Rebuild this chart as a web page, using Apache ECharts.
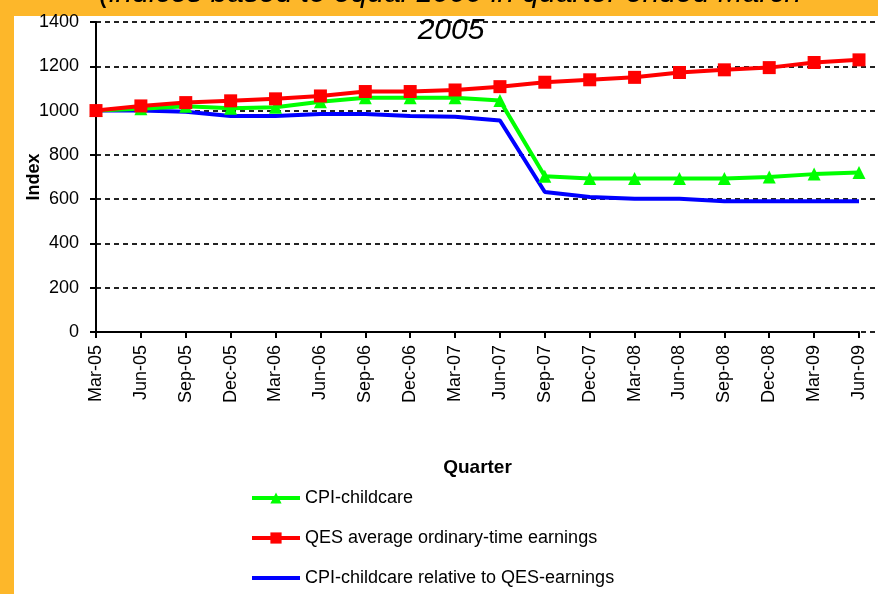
<!DOCTYPE html>
<html>
<head>
<meta charset="utf-8">
<script src="https://cdn.jsdelivr.net/npm/echarts@6/dist/echarts.min.js"></script>
<style>html,body{margin:0;padding:0;background:#FDB72A;}#c{width:878px;height:594px;}</style>
</head>
<body>
<div id="c"></div>
<script>
var categories = ['Mar-05','Jun-05','Sep-05','Dec-05','Mar-06','Jun-06','Sep-06','Dec-06','Mar-07','Jun-07','Sep-07','Dec-07','Mar-08','Jun-08','Sep-08','Dec-08','Mar-09','Jun-09'];
var cpiChildcare = [1000,1008,1020,1010,1015,1040,1058,1058,1058,1045,703,693,693,693,693,700,713,720];
var qesEarnings = [1000,1021,1036,1044,1053,1066,1086,1086,1093,1108,1128,1139,1150,1172,1184,1194,1217,1229];
var cpiRelative = [1000,1000,995,975,975,985,985,975,972,955,632,610,602,602,590,590,590,590];
var seriesNames = ['CPI-childcare','QES average ordinary-time earnings','CPI-childcare relative to QES-earnings'];
var titleLines = ['(indices based to equal 1000 in quarter ended March','2005'];

var FONT = '"Liberation Sans", Arial, sans-serif';
var chart = echarts.init(document.getElementById('c'));
chart.setOption({
  backgroundColor: '#FDB72A',
  animation: false,
  graphic: [
    {type:'rect', left:14, top:16, shape:{width:864, height:578}, style:{fill:'#ffffff'}, z:-10, silent:true},
    {type:'text', x:450, y:-6, z:100, style:{text:titleLines[0], font:'italic 30px ' + FONT, fill:'#000', align:'center', verticalAlign:'middle'}},
    {type:'text', x:451, y:31, z:100, style:{text:titleLines[1], font:'italic 30px ' + FONT, fill:'#000', align:'center', verticalAlign:'middle'}}
  ],
  grid: [
    {left:96, right:19, top:22, bottom:262, containLabel:false},
    {left:96, right:0, top:22, bottom:262, containLabel:false}
  ],
  legend: {
    orient:'vertical', left:250, top:489, height:120, padding:0,
    itemWidth:48, itemHeight:14, itemGap:22,
    lineStyle:{width:4},
    data: [
      {name:seriesNames[0]},
      {name:seriesNames[1]},
      {name:seriesNames[2], icon:'path://M0,0 L48,0 L48,4 L0,4 Z'}
    ],
    textStyle:{fontFamily:FONT, fontSize:18, color:'#000'}
  },
  xAxis: [
    {
      type:'category', gridIndex:0, data:categories, boundaryGap:false,
      name:'Quarter', nameLocation:'middle', nameGap:126,
      nameTextStyle:{fontFamily:FONT, fontSize:19, fontWeight:'bold', color:'#000'},
      axisLine:{lineStyle:{color:'#000', width:2}},
      axisTick:{show:true, length:6, lineStyle:{color:'#000', width:2}},
      axisLabel:{rotate:90, margin:13, interval:0, fontFamily:FONT, fontSize:18, color:'#000'},
      splitLine:{show:false}
    },
    {type:'value', gridIndex:1, show:false, min:0, max:1}
  ],
  yAxis: [
    {
      type:'value', gridIndex:0, min:0, max:1400, interval:200,
      name:'Index', nameLocation:'middle', nameGap:53, nameMoveOverlap:false,
      nameTextStyle:{fontFamily:FONT, fontSize:18, fontWeight:'bold', color:'#000'},
      axisLine:{show:true, lineStyle:{color:'#000', width:2}},
      axisTick:{show:true, length:6, lineStyle:{color:'#000', width:2}},
      axisLabel:{margin:17, fontFamily:FONT, fontSize:18, color:'#000', formatter:function(v){return String(v);}},
      splitLine:{show:false}
    },
    {
      type:'value', gridIndex:1, min:0, max:1400, interval:200,
      axisLine:{show:false}, axisTick:{show:false}, axisLabel:{show:false},
      splitLine:{show:true, lineStyle:{color:'#222', width:2, type:[5,4]}}
    }
  ],
  series: [
    {
      name:seriesNames[0], type:'line', xAxisIndex:0, yAxisIndex:0, data:cpiChildcare, z:3,
      symbol:'triangle', symbolSize:13, color:'#00FF00',
      lineStyle:{color:'#00FF00', width:4}, itemStyle:{color:'#00FF00'}
    },
    {
      name:seriesNames[1], type:'line', xAxisIndex:0, yAxisIndex:0, data:qesEarnings, z:4,
      symbol:'rect', symbolSize:13, color:'#FF0000',
      lineStyle:{color:'#FF0000', width:4}, itemStyle:{color:'#FF0000'}
    },
    {
      name:seriesNames[2], type:'line', xAxisIndex:0, yAxisIndex:0, data:cpiRelative, z:2,
      symbol:'none', showSymbol:false, color:'#0000FF',
      lineStyle:{color:'#0000FF', width:4}, itemStyle:{color:'#0000FF'}
    }
  ]
});
</script>
</body>
</html>
